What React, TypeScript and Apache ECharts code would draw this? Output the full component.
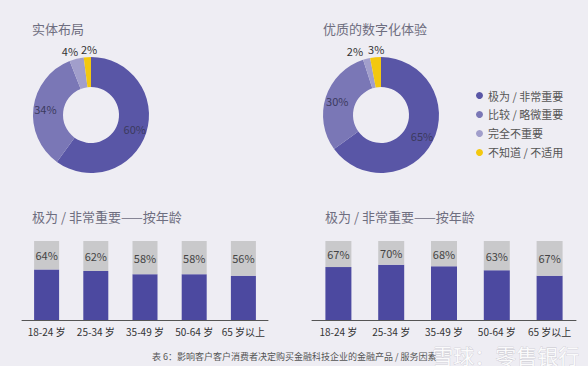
import React, { useEffect, useRef } from "react";
import * as echarts from "echarts";

const pieNames = ["极为 / 非常重要", "比较 / 略微重要", "完全不重要", "不知道 / 不适用"];
const layoutValues = [60, 34, 4, 2];
const digitalValues = [65, 30, 2, 3];
const ageCats = ["18-24 岁", "25-34 岁", "35-49 岁", "50-64 岁", "65 岁以上"];
const layoutByAge = [64, 62, 58, 58, 56];
const layoutByAgeLabels = ["64%", "62%", "58%", "58%", "56%"];
const digitalByAge = [67, 70, 68, 63, 56];
const digitalByAgeLabels = ["67%", "70%", "68%", "63%", "67%"];

const pieColors = ["#5956a6", "#7a77b6", "#a19ecb", "#f3c80f"];
const FONT = "'Noto Sans CJK SC', 'Noto Sans', sans-serif";

function pieSeries(values: number[], center: number[], shifts: Record<number, number>) {
  return {
    type: "pie",
    center,
    radius: [28, 58],
    startAngle: 90,
    clockwise: true,
    avoidLabelOverlap: false,
    silent: true,
    label: { show: true, position: "inside", formatter: "{c}%", color: "#3b3a5e", fontSize: 11, fontFamily: FONT },
    labelLine: { show: false, length: 2, length2: 0 },
    labelLayout: (p: any) => {
      const dx = shifts[p.dataIndex];
      return dx !== undefined ? { dx, dy: -6, hideOverlap: false } : { hideOverlap: false };
    },
    data: values.map((v, i) => ({
      name: pieNames[i],
      value: v,
      itemStyle: { color: pieColors[i] },
      label: shifts[i] !== undefined
        ? { position: "outside", color: "#333", fontSize: 11, distanceToLabelLine: 0 }
        : undefined,
    })),
  };
}

function barSeries(values: number[], labels: string[], idx: number, width: number) {
  return [
    {
      type: "bar",
      xAxisIndex: idx,
      yAxisIndex: idx,
      stack: "s" + idx,
      barWidth: width,
      data: values,
      itemStyle: { color: "#4c49a0" },
      silent: true,
    },
    {
      type: "bar",
      xAxisIndex: idx,
      yAxisIndex: idx,
      stack: "s" + idx,
      barWidth: width,
      data: values.map((v) => 100 - v),
      itemStyle: { color: "#c9c9cb" },
      silent: true,
      label: {
        show: true,
        position: "inside",
        formatter: (p: any) => labels[p.dataIndex],
        color: "#444",
        fontSize: 11,
        fontFamily: FONT,
      },
    },
  ];
}

export default function App() {
  const ref = useRef<HTMLDivElement>(null);
  useEffect(() => {
    const chart = echarts.init(ref.current!, undefined, { renderer: "svg" });
    const titleStyle = { color: "#6e6e80", fontSize: 13, fontWeight: "normal", fontFamily: FONT };
    const xAxisCommon = {
      type: "category",
      data: ageCats,
      axisLine: { lineStyle: { color: "#555", width: 1 } },
      axisTick: { show: false },
      axisLabel: { color: "#333", fontSize: 10, margin: 6, interval: 0, hideOverlap: false, fontFamily: FONT },
    };
    const yAxisCommon = { type: "value", min: 0, max: 100, show: false };
    chart.setOption({
      animation: false,
      backgroundColor: "#eeedf3",
      textStyle: { fontFamily: FONT },
      title: [
        { text: "实体布局", left: 27, top: 17, textStyle: titleStyle },
        { text: "优质的数字化体验", left: 318, top: 17, textStyle: titleStyle },
        { text: "极为 / 非常重要——按年龄", left: 27, top: 205, textStyle: titleStyle },
        { text: "极为 / 非常重要——按年龄", left: 320, top: 205, textStyle: titleStyle },
      ],
      legend: {
        orient: "vertical",
        left: 471,
        top: 85,
        icon: "circle",
        itemWidth: 7,
        itemHeight: 7,
        itemGap: 8,
        data: pieNames,
        textStyle: { color: "#555", fontSize: 11, fontFamily: FONT },
        selectedMode: false,
      },
      grid: [
        { left: 22, width: 246, top: 241, height: 79 },
        { left: 312, width: 264, top: 241, height: 79 },
      ],
      xAxis: [
        { ...xAxisCommon, gridIndex: 0 },
        { ...xAxisCommon, gridIndex: 1 },
      ],
      yAxis: [
        { ...yAxisCommon, gridIndex: 0 },
        { ...yAxisCommon, gridIndex: 1 },
      ],
      series: [
        pieSeries(layoutValues, [91, 115], { 2: 2, 3: 10 }),
        pieSeries(digitalValues, [381, 115], { 2: -3, 3: 9 }),
        ...barSeries(layoutByAge, layoutByAgeLabels, 0, 25),
        ...barSeries(digitalByAge, digitalByAgeLabels, 1, 26),
      ],
      graphic: [
        {
          type: "text",
          left: 152,
          top: 352,
          style: {
            text: "表 6：影响客户客户消费者决定购买金融科技企业的金融产品 / 服务因素",
            fill: "#555",
            fontSize: 9,
            fontFamily: FONT,
          },
        },
        {
          type: "text",
          left: 432,
          top: 344,
          style: {
            text: "雪球：零售银行",
            fill: "rgba(255,255,255,0.85)",
            stroke: "rgba(140,140,150,0.45)",
            lineWidth: 0.6,
            fontSize: 21,
            fontFamily: FONT,
          },
        },
      ],
    });
    return () => chart.dispose();
  }, []);
  return <div ref={ref} style={{ width: 588, height: 366, position: "absolute", left: 0, top: 0 }} />;
}
